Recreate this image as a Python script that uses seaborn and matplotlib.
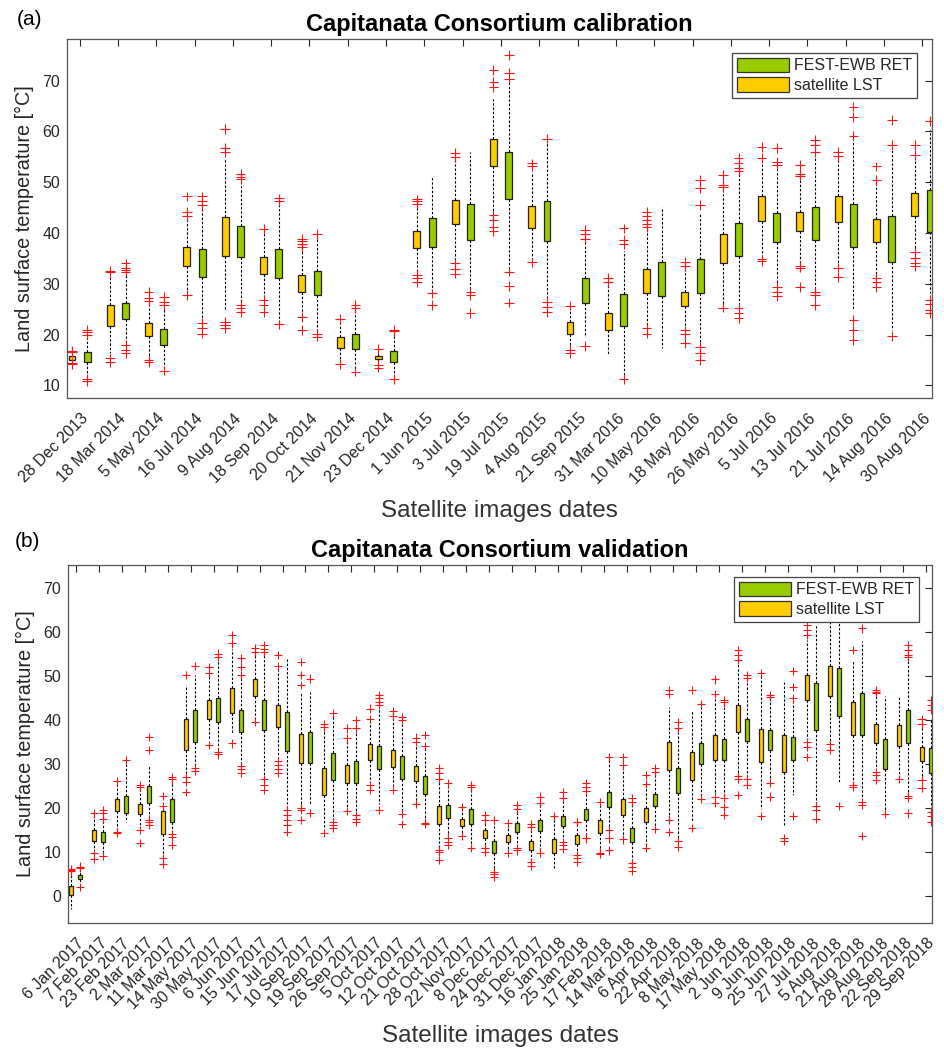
import numpy as np
import pandas as pd
import matplotlib
matplotlib.use("Agg")
import matplotlib.pyplot as plt
import seaborn as sns
from matplotlib.patches import Patch
from matplotlib.transforms import ScaledTranslation

sns.set_theme(style="white")
plt.rcParams["font.family"] = ["Liberation Sans", "DejaVu Sans"]

SERIES = ["satellite LST", "FEST-EWB RET"]
YELLOW = "#FFCC00"
GREEN = "#99CC00"
RED = "#F01818"
INK = "#262626"

# ---------------- Panel (a): calibration ----------------
dates_a = ["28 Dec 2013", "18 Mar 2014", "5 May 2014", "16 Jul 2014", "9 Aug 2014",
           "18 Sep 2014", "20 Oct 2014", "21 Nov 2014", "23 Dec 2014", "1 Jun 2015",
           "3 Jul 2015", "19 Jul 2015", "4 Aug 2015", "21 Sep 2015", "31 Mar 2016",
           "10 May 2016", "18 May 2016", "26 May 2016", "5 Jul 2016", "13 Jul 2016",
           "21 Jul 2016", "14 Aug 2016", "30 Aug 2016"]

sat_a_lo = [14.8, 16.4, 15.8, 28.1, 24.8, 27.5, 23.6, 14.3, 14.3, 32.0, 34.7, 44.2,
            34.7, 17.3, 16.0, 21.5, 21.2, 25.5, 35.0, 33.7, 33.4, 31.4, 36.6]
sat_a_q1 = [15.0, 21.7, 19.7, 33.5, 35.5, 31.9, 28.4, 17.4, 15.1, 37.0, 41.8, 53.1,
            40.9, 20.2, 20.9, 28.2, 25.6, 34.0, 42.4, 40.3, 42.1, 38.3, 43.3]
sat_a_med = [15.4, 23.5, 21.0, 35.5, 39.0, 33.5, 30.0, 18.5, 15.5, 38.5, 44.0, 56.0,
             43.0, 21.3, 22.5, 31.0, 27.0, 37.0, 45.0, 42.0, 45.0, 40.5, 45.5]
sat_a_q3 = [15.8, 25.8, 22.3, 37.3, 43.2, 35.3, 31.7, 19.6, 15.8, 40.3, 46.5, 58.6,
            45.3, 22.4, 24.3, 33.0, 28.4, 39.8, 47.2, 44.2, 47.3, 42.8, 47.8]
sat_a_hi = [16.2, 31.5, 26.3, 42.9, 54.7, 40.6, 36.6, 22.9, 17.1, 45.5, 54.7, 66.4,
            52.1, 25.6, 30.1, 40.9, 33.0, 49.1, 54.4, 51.1, 55.0, 50.1, 54.7]
sat_a_out = [[16.5, 16.8, 14.4, 14.2], [32.3, 32.5, 15.3, 14.6], [28.4, 27.1, 26.6, 15.0, 14.5],
             [47.2, 44.2, 43.4, 27.8], [60.5, 56.7, 56.0, 22.5, 21.9, 21.2], [40.8, 26.8, 25.8, 24.5],
             [38.9, 38.4, 37.8, 37.2, 23.4, 20.9], [23.0, 14.2], [17.2, 14.0, 13.5],
             [46.6, 46.2, 45.8, 31.7, 31.1, 30.4], [55.7, 55.0, 34.0, 33.0, 32.0],
             [72.1, 69.8, 68.8, 43.5, 42.6, 41.2, 40.3], [53.7, 53.1, 34.2], [25.7, 17.0, 16.3],
             [31.1, 30.4], [44.2, 43.4, 42.6, 41.8, 41.2, 21.2, 20.2], [34.3, 33.5, 20.8, 20.2, 18.3],
             [51.4, 49.4, 49.0, 25.3], [57.0, 54.7, 34.8, 34.5], [53.4, 51.7, 51.3, 33.5, 33.2, 29.4],
             [56.0, 55.2, 33.2, 31.4], [53.1, 50.4, 31.2, 30.4, 29.4],
             [57.3, 55.4, 36.3, 35.0, 34.0, 33.4]]

fest_a_lo = [12.0, 18.6, 13.3, 22.9, 26.1, 22.5, 20.6, 13.0, 11.4, 28.8, 28.8, 32.7,
             26.8, 19.6, 12.0, 17.3, 18.3, 26.1, 30.1, 28.8, 25.0, 20.9, 28.1]
fest_a_q1 = [14.5, 23.0, 17.9, 31.4, 35.3, 31.2, 27.8, 17.1, 14.6, 37.2, 38.7, 46.6,
             38.5, 26.3, 21.7, 27.5, 28.1, 35.5, 38.3, 38.6, 37.3, 34.3, 40.1]
fest_a_med = [15.5, 24.5, 19.3, 34.0, 38.0, 34.0, 30.0, 18.5, 15.7, 40.0, 42.0, 51.0,
              42.0, 28.5, 24.5, 31.0, 31.0, 39.0, 41.0, 42.0, 41.5, 39.0, 44.0]
fest_a_q3 = [16.6, 26.3, 21.0, 36.8, 41.4, 36.8, 32.6, 20.1, 16.8, 42.9, 45.7, 55.9,
             46.3, 31.2, 27.9, 34.3, 34.9, 42.0, 44.0, 45.2, 45.7, 43.4, 48.5]
fest_a_hi = [19.5, 31.7, 25.0, 45.0, 50.1, 45.5, 39.4, 25.0, 20.4, 51.1, 55.9, 70.1,
             58.3, 38.5, 36.5, 45.2, 44.0, 52.1, 53.1, 54.7, 58.0, 57.0, 60.3]
fest_a_out = [[20.0, 20.4, 20.9, 11.3, 10.9], [34.0, 33.2, 32.8, 32.4, 17.9, 16.9, 16.3],
              [27.4, 26.5, 25.8, 12.9], [47.2, 46.2, 45.5, 22.2, 21.2, 20.2],
              [51.7, 51.1, 50.6, 25.8, 25.2, 24.5], [46.8, 46.2, 22.0], [39.8, 20.2, 19.6],
              [25.8, 25.2, 12.7], [20.9, 20.6, 11.2], [28.1, 25.8], [28.4, 27.8, 24.2],
              [75.1, 71.6, 70.4, 32.4, 29.6, 26.3], [58.6, 26.5, 25.5, 24.5],
              [40.6, 39.8, 38.9, 17.7], [40.9, 38.6, 37.8, 11.3], [],
              [50.4, 48.8, 45.5, 17.6, 16.3, 15.0], [54.7, 53.7, 52.7, 52.3, 25.2, 24.2, 23.2],
              [56.7, 54.0, 53.4, 29.4, 28.4, 27.5], [58.3, 57.3, 56.0, 28.4, 27.8, 25.8],
              [64.9, 62.9, 59.1, 22.9, 20.9, 18.9], [62.3, 57.3, 19.7],
              [62.1, 26.8, 26.1, 24.8, 24.2]]

# ---------------- Panel (b): validation ----------------
dates_b = ["6 Jan 2017", "7 Feb 2017", "23 Feb 2017", "2 Mar 2017", "11 Mar 2017",
           "14 May 2017", "30 May 2017", "6 Jun 2017", "15 Jun 2017", "17 Jul 2017",
           "10 Sep 2017", "19 Sep 2017", "26 Sep 2017", "5 Oct 2017", "12 Oct 2017",
           "21 Oct 2017", "28 Oct 2017", "22 Nov 2017", "8 Dec 2017", "24 Dec 2017",
           "31 Dec 2017", "16 Jan 2018", "25 Jan 2018", "17 Feb 2018", "14 Mar 2018",
           "6 Apr 2018", "22 Apr 2018", "8 May 2018", "17 May 2018", "2 Jun 2018",
           "9 Jun 2018", "25 Jun 2018", "27 Jul 2018", "5 Aug 2018", "21 Aug 2018",
           "28 Aug 2018", "22 Sep 2018", "29 Sep 2018"]

sat_b_lo = [-3.0, 10.4, 15.0, 15.2, 9.0, 27.5, 35.4, 36.9, 40.0, 30.9, 20.3, 15.4, 19.5,
            25.6, 24.8, 21.2, 10.6, 13.9, 11.2, 10.1, 8.2, 6.1, 9.7, 10.1, 13.1, 11.2,
            17.6, 16.9, 23.7, 27.5, 19.9, 16.1, 36.2, 35.0, 26.0, 29.0, 26.7, 26.5]
sat_b_q1 = [0.2, 12.6, 19.4, 18.6, 14.2, 33.2, 40.3, 41.6, 45.4, 38.3, 30.3, 22.9, 25.6,
            31.0, 29.4, 26.2, 16.4, 16.0, 13.1, 12.3, 10.4, 9.8, 11.8, 14.4, 18.4, 16.9,
            28.6, 26.3, 30.9, 37.2, 30.5, 28.2, 44.5, 45.4, 36.6, 34.7, 34.1, 30.7]
sat_b_med = [1.0, 13.8, 20.7, 19.8, 16.0, 37.0, 42.5, 44.0, 47.0, 41.0, 33.5, 26.0, 27.5,
             33.0, 31.5, 28.0, 18.5, 16.8, 14.0, 13.0, 11.5, 11.5, 12.8, 16.0, 20.0, 18.5,
             32.0, 29.5, 34.0, 40.0, 34.0, 32.0, 47.0, 49.0, 40.0, 37.0, 36.5, 32.5]
sat_b_q3 = [2.3, 15.0, 22.0, 20.9, 19.4, 40.3, 44.5, 47.2, 49.2, 43.5, 36.9, 29.0, 29.8,
            34.5, 33.2, 29.5, 20.4, 17.6, 15.0, 13.9, 12.6, 12.9, 13.9, 17.4, 22.0, 20.1,
            35.0, 32.8, 36.6, 43.4, 37.9, 36.6, 50.2, 52.3, 44.1, 39.1, 38.8, 33.9]
sat_b_hi = [5.0, 18.6, 26.0, 24.6, 20.2, 48.0, 50.2, 56.2, 56.2, 52.0, 46.4, 37.8, 35.5,
            40.0, 40.5, 34.6, 26.3, 20.1, 17.2, 16.1, 15.5, 18.0, 16.7, 21.2, 29.5, 25.2,
            43.0, 42.2, 45.6, 52.8, 50.2, 49.1, 58.1, 63.0, 53.6, 46.0, 45.3, 38.5]
sat_b_out = [[5.6, 6.0, 6.2], [18.8, 9.8, 8.4], [26.2, 14.6, 14.4], [25.2, 24.8, 15.0, 12.1],
             [20.4, 22.7, 8.6, 7.4], [50.2, 27.1, 26.0, 23.7], [50.6, 52.1, 34.3],
             [59.3, 57.4, 34.7], [56.4, 55.5, 39.6], [54.7, 52.3, 30.7, 29.8, 28.8, 27.9],
             [53.2, 50.2, 47.9, 20.1, 19.5, 17.3], [39.1, 38.3, 14.4], [38.1, 35.8, 19.3],
             [42.6, 40.2, 25.2, 24.1], [42.1, 40.9, 24.2], [36.0, 35.0, 21.0],
             [29.0, 27.9, 26.7, 10.4, 10.1, 8.2], [20.3, 13.7], [18.4, 17.3, 11.0, 10.1],
             [16.5, 9.8], [16.4, 15.7, 7.8, 6.8], [18.2], [16.9, 16.8, 9.3, 8.6, 7.8],
             [21.4, 9.9, 9.5], [31.5, 29.7, 12.9], [27.5, 25.4, 11.0], [46.8, 45.9, 17.4, 14.6],
             [46.8, 15.4], [49.2, 45.9, 22.6, 21.2], [55.9, 54.7, 53.6, 27.3, 26.7, 22.9],
             [50.6, 18.2], [13.1, 12.6], [61.5, 60.4, 59.3, 35.0, 33.9, 31.6], [34.5, 33.2],
             [55.9, 25.2, 24.8], [46.8, 46.4, 46.2, 28.2, 27.5, 26.3], [26.5],
             [40.3, 39.1, 26.3, 24.5]]

fest_b_lo = [2.9, 9.3, 16.9, 17.6, 14.2, 29.4, 33.2, 30.0, 26.7, 20.3, 20.7, 17.4, 18.8,
             21.0, 18.8, 16.9, 13.5, 11.2, 5.9, 11.3, 10.1, 12.7, 13.5, 15.5, 8.0, 15.4,
             12.7, 22.2, 22.6, 26.7, 26.0, 22.9, 20.7, 25.6, 21.8, 18.8, 22.9, 20.3]
fest_b_q1 = [3.8, 12.3, 18.9, 21.2, 16.9, 35.0, 39.6, 37.3, 37.7, 33.0, 30.3, 26.3, 25.7,
             28.8, 26.5, 23.3, 17.8, 16.4, 9.7, 14.6, 14.8, 15.9, 17.3, 20.3, 12.3, 20.4,
             23.5, 30.0, 30.9, 35.2, 33.3, 30.9, 37.7, 41.0, 36.6, 28.8, 34.7, 28.0]
fest_b_med = [4.3, 13.5, 21.0, 23.5, 19.5, 38.5, 42.5, 40.0, 41.0, 37.0, 34.0, 29.0, 28.0,
              32.0, 29.0, 25.5, 19.3, 18.0, 11.0, 15.5, 16.0, 17.0, 18.5, 22.0, 14.0, 21.8,
              26.0, 32.5, 33.0, 38.0, 35.5, 33.5, 43.0, 47.0, 41.5, 32.0, 38.5, 31.0]
fest_b_q3 = [4.8, 14.6, 22.7, 25.0, 22.0, 42.2, 44.9, 42.2, 44.5, 41.9, 37.3, 32.4, 30.7,
             34.2, 31.8, 27.3, 20.7, 19.7, 12.6, 16.7, 17.4, 18.2, 19.7, 23.7, 15.4, 23.2,
             29.2, 34.8, 35.7, 40.3, 37.7, 36.2, 48.5, 51.7, 46.2, 35.7, 42.2, 33.7]
fest_b_hi = [6.3, 17.4, 30.5, 29.7, 26.3, 50.2, 53.6, 49.5, 55.0, 54.0, 46.4, 41.3, 37.8,
             43.0, 39.5, 33.5, 25.2, 24.5, 16.9, 19.5, 21.0, 22.2, 23.5, 31.4, 21.0, 28.0,
             38.0, 43.4, 43.8, 49.4, 45.0, 44.5, 61.5, 62.0, 58.0, 45.4, 53.5, 40.1]
fest_b_out = [[6.7, 6.5, 2.0], [19.5, 18.8, 17.6, 9.1], [30.9], [36.2, 33.2, 17.4, 16.9, 16.1],
              [27.1, 26.5, 14.0, 13.5, 11.6], [52.2, 29.0, 28.5], [55.1, 54.4, 32.8, 32.2],
              [54.0, 52.1, 50.2, 29.6, 28.8, 27.9], [57.0, 56.2, 55.5, 26.5, 25.2, 24.1],
              [19.5, 18.4, 17.3, 16.1, 14.6], [49.4, 18.9], [41.6, 16.9, 16.1, 15.4],
              [40.0, 38.1, 18.4, 17.6, 16.9], [45.6, 44.9, 44.1, 43.4, 19.5],
              [40.7, 40.0, 18.6, 16.4], [36.6, 34.1, 16.7, 16.4], [25.6, 13.3, 12.3, 11.6],
              [25.2, 24.8, 11.0], [17.3, 5.5, 5.0, 4.4], [20.7, 19.9, 11.0, 10.4],
              [22.6, 21.2, 9.9], [23.7, 22.4, 12.3, 11.6, 10.8], [25.6, 24.8, 23.9, 13.3, 13.1],
              [31.6, 15.0, 13.1, 10.4], [22.2, 21.4, 7.6, 6.7, 5.8], [29.0, 28.2, 15.2],
              [39.6, 38.1, 12.5, 11.2], [43.6, 22.0], [44.5, 44.0, 22.4, 20.3, 18.4],
              [50.2, 49.6, 26.5, 25.2], [45.6, 45.3, 25.8, 22.6], [51.2, 47.5, 44.9, 18.2],
              [20.5, 19.5, 17.6], [20.4], [60.8, 21.4, 20.7, 13.6], [18.6],
              [57.0, 55.9, 54.7, 54.4, 22.7, 22.4, 18.8], [44.5, 43.4, 42.2, 19.2, 18.2, 16.9]]


def box_frame(dates, name, lo, q1, med, q3, hi):
    rows = []
    for d, *vals in zip(dates, lo, q1, med, q3, hi):
        for v in vals:
            rows.append((d, name, v))
    return pd.DataFrame(rows, columns=["date", "series", "value"])


def out_frame(dates, name, outs):
    rows = [(d, name, v) for d, vs in zip(dates, outs) for v in vs]
    return pd.DataFrame(rows, columns=["date", "series", "value"])


fig = plt.figure(figsize=(9.45, 10.52), dpi=100)
ax_a = fig.add_axes([67 / 945, 1 - 398 / 1052, 865 / 945, 359 / 1052])
ax_b = fig.add_axes([68 / 945, 1 - 923 / 1052, 864 / 945, 358 / 1052])


def panel(ax, dates, sat, fest, sat_out, fest_out, ylim, yticks, title, msize, legend_anchor):
    boxes = pd.concat([box_frame(dates, SERIES[0], *sat), box_frame(dates, SERIES[1], *fest)])
    outs = pd.concat([out_frame(dates, SERIES[0], sat_out), out_frame(dates, SERIES[1], fest_out)])
    sns.boxplot(data=boxes, x="date", y="value", hue="series", order=dates, hue_order=SERIES,
                palette={SERIES[0]: YELLOW, SERIES[1]: GREEN}, saturation=1,
                whis=(0, 100), showfliers=False, width=0.8, gap=0.55, dodge=True,
                linecolor="#222222", linewidth=0.9,
                whiskerprops=dict(linestyle=(0, (2.2, 1.6)), color="black", linewidth=0.8),
                showcaps=False, medianprops=dict(linewidth=0),
                legend=False, ax=ax)
    sns.stripplot(data=outs, x="date", y="value", hue="series", order=dates, hue_order=SERIES,
                  palette={SERIES[0]: RED, SERIES[1]: RED}, dodge=True, jitter=False,
                  marker="+", size=msize, linewidth=0.8, legend=False, ax=ax, zorder=3)
    n = len(dates)
    ax.set_xlim(-0.33, n - 1 + 0.25)
    ax.set_ylim(*ylim)
    ax.set_yticks(yticks)
    ax.set_xticks(range(n))
    ax.set_xticklabels(dates)
    ax.set_title(title, fontsize=17, fontweight="bold", color="black", pad=6)
    ax.set_ylabel("Land surface temperature [°C]", fontsize=14.3, color=INK, labelpad=6)
    ax.set_xlabel("Satellite images dates", fontsize=17.5, color="#333333")
    ax.xaxis.set_label_coords(0.5, -0.285)
    ax.grid(False)
    for s in ax.spines.values():
        s.set_color("#555555")
        s.set_linewidth(0.9)
        s.set_visible(True)
    ax.tick_params(direction="in", top=True, right=True, length=5, width=0.8,
                   color=INK, labelsize=11.5, labelcolor=INK)
    ax.tick_params(axis="y", pad=5)
    ax.tick_params(axis="x", pad=13)
    shift = ScaledTranslation(6 / 100, 0, fig.dpi_scale_trans)
    for lbl in ax.get_xticklabels():
        lbl.set_rotation(45)
        lbl.set_ha("right")
        lbl.set_va("center")
        lbl.set_rotation_mode("anchor")
        lbl.set_transform(lbl.get_transform() + shift)
    handles = [Patch(facecolor=GREEN, edgecolor="#333333", linewidth=0.9, label="FEST-EWB RET"),
               Patch(facecolor=YELLOW, edgecolor="#333333", linewidth=0.9, label="satellite LST")]
    leg = ax.legend(handles=handles, loc="upper right", bbox_to_anchor=legend_anchor,
                    borderaxespad=0, fontsize=11.5, handlelength=3.3, handleheight=1.0,
                    handletextpad=0.3, labelspacing=0.25, borderpad=0.3,
                    frameon=True, fancybox=False, framealpha=1, edgecolor="#444444")
    leg.get_frame().set_linewidth(0.9)
    leg.set_zorder(10)


panel(ax_a, dates_a,
      (sat_a_lo, sat_a_q1, sat_a_med, sat_a_q3, sat_a_hi),
      (fest_a_lo, fest_a_q1, fest_a_med, fest_a_q3, fest_a_hi),
      sat_a_out, fest_a_out, (7.5, 78.2), list(range(10, 71, 10)),
      "Capitanata Consortium calibration", 7.0, (1 - 15 / 865, 1 - 14 / 359))
panel(ax_b, dates_b,
      (sat_b_lo, sat_b_q1, sat_b_med, sat_b_q3, sat_b_hi),
      (fest_b_lo, fest_b_q1, fest_b_med, fest_b_q3, fest_b_hi),
      sat_b_out, fest_b_out, (-6.1, 75.2), list(range(0, 71, 10)),
      "Capitanata Consortium validation", 6.0, (1 - 13 / 864, 1 - 12 / 358))

fig.text(17 / 945, 1 - 10 / 1052, "(a)", fontsize=15, va="top", ha="left", color="black")
fig.text(15 / 945, 1 - 532 / 1052, "(b)", fontsize=15, va="top", ha="left", color="black")

fig.savefig("out.png", dpi=100)
